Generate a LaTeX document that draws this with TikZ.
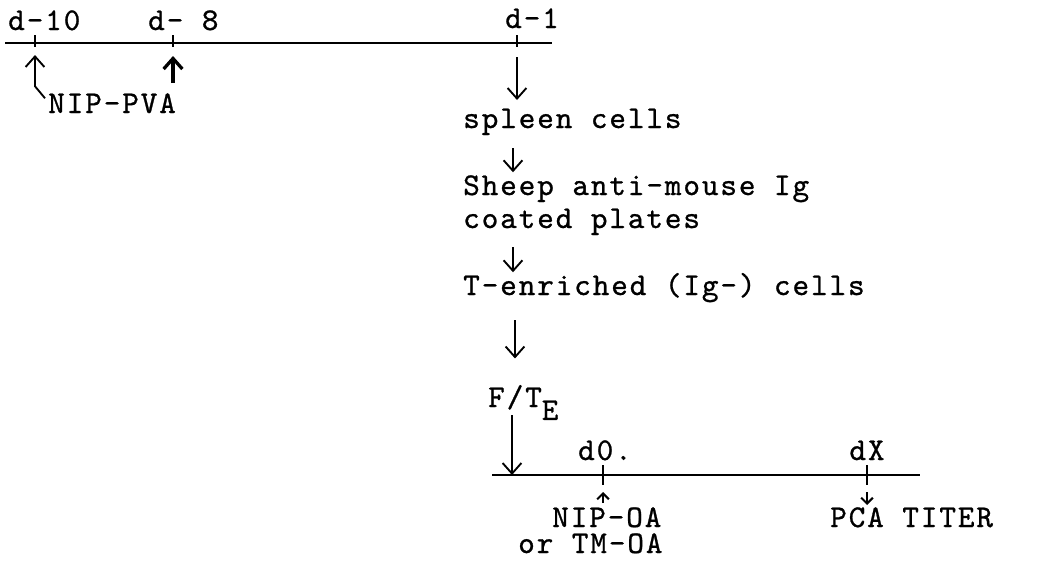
\documentclass[tikz,border=0pt]{standalone}
\usepackage{fontspec}
\newfontfamily\twfont{lmmono10-regular.otf}[LetterSpace=6,FakeBold=0.8]
\usetikzlibrary{arrows.meta,calc}

\begin{document}
\begin{tikzpicture}[x=0.03cm,y=-0.03cm,
    lbl/.style={inner sep=0pt,anchor=base west,
      font=\twfont\fontsize{27pt}{30pt}\selectfont},
    axis/.style={line width=2.2pt},
    tick/.style={line width=1.6pt},
    arr/.style={line width=1.6pt,-{Straight Barb[length=9pt,width=16pt]}},
    arrsmall/.style={line width=1.8pt,-{Straight Barb[length=5pt,width=10pt]}}]
  \useasboundingbox (0,0) rectangle (1037,561);

  % priming time line
  \draw[axis] (5,43) -- (552,43);
  \coordinate (t10) at (35,43);
  \coordinate (t8) at (173,43);
  \coordinate (t1) at (517,43);
  \foreach \t in {t10,t8,t1} \draw[tick] ($(\t)+(0,-8)$) -- ($(\t)+(0,4)$);
  \node[lbl] (l10) at (8,30) {d-10};
  \node[lbl] (l8) at (148,30) {d- 8};
  \node[lbl] (l1) at (505,28) {d-1};

  \node[lbl] (pva) at (48,113) {NIP-PVA};
  \draw[arr] (pva.west) ++(-3,-5) -- ++(-10,-12) -- ($(t10)+(0,12)$);
  \draw[arr,line width=2.8pt] ($(t8)+(0,40)$) -- ($(t8)+(0,13)$);
  \draw[arr] ($(t1)+(0,14)$) -- ($(t1)+(0,57)$);

  % cell separation
  \node[lbl] (spl) at (463,128) {spleen cells};
  \node[lbl] (sam) at (463,195) {Sheep anti-mouse Ig};
  \node[lbl] (cp) at (463,228) {coated plates};
  \node[lbl] (ten) at (463,295) {T-enriched (Ig-) cells};
  \draw[arr] (spl.south west) ++(50,13) -- ++(0,24);
  \draw[arr] (cp.south west) ++(50,12) -- ++(0,25);
  \draw[arr] (ten.south west) ++(52,18) -- ++(0,38);

  % transfer and challenge
  \node[lbl] (ft) at (488,407) {F/T\raisebox{-11pt}{E}};
  \draw[axis] (492,475) -- (920,475);
  \coordinate (fin) at (512,475);
  \coordinate (d0) at (603,475);
  \coordinate (dx) at (867,475);
  \foreach \t in {d0,dx} \draw[tick] ($(\t)+(0,-10)$) -- ($(\t)+(0,10)$);
  \draw[arr] ($(fin)+(0,-60)$) -- (fin);
  \node[lbl,anchor=base] (ld0) at (605,460) {d0.};
  \node[lbl,anchor=base] (ldx) at (867,460) {dX};

  \node[lbl,text depth=0pt] (noa) at (552,527) {NIP-OA};
  \node[lbl] (tmoa) at (518,553) {or TM-OA};
  \node[lbl,text depth=0pt] (pca) at (830,527) {PCA TITER};
  \draw[arrsmall] ($(d0)+(0,28)$) -- ($(d0)+(0,17)$);
  \draw[arrsmall] ($(dx)+(0,17)$) -- ($(dx)+(0,30)$);
\end{tikzpicture}
\end{document}
